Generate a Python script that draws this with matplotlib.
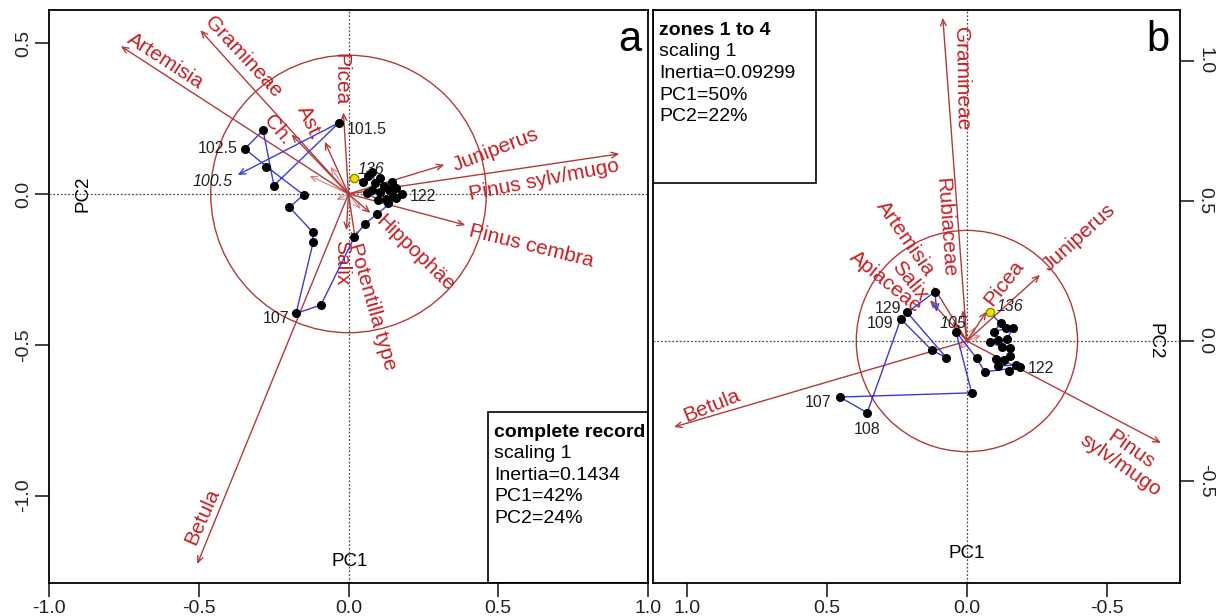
import matplotlib
matplotlib.use("Agg")
import matplotlib.pyplot as plt
from matplotlib.patches import Circle, Rectangle

plt.rcParams['font.family'] = ['Liberation Sans', 'DejaVu Sans']

# ==========================
# PANEL A : complete record
# ==========================
a_taxa = ["Artemisia", "Gramineae", "Picea", "Ast.", "Ch.", "Juniperus",
          "Pinus sylv/mugo", "Pinus cembra", "Hippophäe", "Salix",
          "Potentilla type", "Betula"]
a_tx = [-0.76, -0.495, -0.017, -0.079, -0.19, 0.32, 0.904, 0.39, 0.073, -0.007, 0.023, -0.505]
a_ty = [0.49, 0.543, 0.27, 0.173, 0.197, 0.097, 0.133, -0.103, -0.063, -0.12, -0.153, -1.227]
# short unlabelled taxa
a_mx = [-0.06, -0.13, 0.04, -0.04]
a_my = [0.09, 0.06, -0.05, -0.02]

# samples in stratigraphic order (136 -> 100.5)
a_sx = [0.020, 0.050, 0.066, 0.079, 0.089, 0.106, 0.119, 0.135, 0.145, 0.158, 0.149,
        0.125, 0.106, 0.079, 0.063, 0.099, 0.132, 0.158, 0.177,
        0.095, 0.056, 0.020, -0.092, -0.175, -0.118, -0.120, -0.197, -0.150,
        -0.274, -0.346, -0.285, -0.249, -0.032]
a_sy = [0.052, 0.040, 0.060, 0.073, 0.037, 0.053, 0.027, 0.013, 0.040, 0.020, -0.007,
        -0.017, 0.007, 0.013, 0.003, -0.020, -0.030, -0.013, 0.000,
        -0.067, -0.098, -0.142, -0.368, -0.396, -0.160, -0.126, -0.044, -0.003,
        0.091, 0.150, 0.211, 0.028, 0.236]
a_end = (-0.37, 0.063)          # 100.5
a_depth = {0: "136", 18: "122", 23: "107", 29: "102.5", 32: "101.5"}
a_info = ["complete record", "scaling 1", "Inertia=0.1434", "PC1=42%", "PC2=24%"]

# ==========================
# PANEL B : zones 1 to 4
# ==========================
b_taxa = ["Gramineae", "Rubiaceae", "Artemisia", "Salix", "Apiaceae", "Picea",
          "Juniperus", "Betula", "Pinus\nsylv/mugo"]
b_tx = [0.086, 0.015, 0.12, 0.132, 0.05, -0.07, -0.261, 1.046, -0.693]
b_ty = [1.154, 0.11, 0.194, 0.146, 0.069, 0.105, 0.236, -0.307, -0.364]
b_mx = [-0.03, 0.03, -0.05]
b_my = [0.05, -0.03, 0.02]

b_sx = [-0.082, -0.120, -0.096, -0.139, -0.163, -0.144, -0.112, -0.082, -0.124, -0.154,
        -0.154, -0.104, -0.132, -0.112, -0.177, -0.151, -0.189,
        -0.064, -0.035, 0.039, -0.017, 0.454, 0.356, 0.236, 0.126, 0.073, 0.213, 0.114]
b_sy = [0.102, 0.063, 0.033, 0.045, 0.048, 0.006, 0.004, -0.002, -0.023, -0.026,
        -0.054, -0.065, -0.068, -0.089, -0.086, -0.106, -0.094,
        -0.110, -0.062, 0.033, -0.185, -0.200, -0.256, 0.079, -0.032, -0.060, 0.102, 0.176]
b_end = (0.108, 0.104)          # 105
b_depth = {0: "136", 16: "122", 21: "107", 22: "108", 23: "109", 26: "129"}
b_info = ["zones 1 to 4", "scaling 1", "Inertia=0.09299", "PC1=50%", "PC2=22%"]

# colours
ARROW = "#B23A3A"
TXT = "#C41E24"
BLUE = "#3A3AD8"


def draw_arrow(ax, x, y, x0=0, y0=0, color=ARROW, lw=1.0):
    ax.annotate("", xy=(x, y), xytext=(x0, y0),
                arrowprops=dict(arrowstyle="->,head_length=0.45,head_width=0.2",
                                color=color, lw=lw, shrinkA=0, shrinkB=0))


fig = plt.figure(figsize=(12.24, 6.16), dpi=100)
ax1 = fig.add_axes([49 / 1224, 33 / 616, 599 / 1224, 573 / 616])
ax2 = fig.add_axes([653 / 1224, 33 / 616, 527 / 1224, 573 / 616])

# ---------- panel a ----------
ax = ax1
ax.set_xlim(-1.0, 1.0)
ax.set_ylim(-1.29, 0.61)
ax.axhline(0, color="0.3", lw=0.9, ls=(0, (1.5, 1.5)))
ax.axvline(0, color="0.3", lw=0.9, ls=(0, (1.5, 1.5)))
ax.add_patch(Circle((0, 0), 0.46, fill=False, color=ARROW, lw=1))

for x, y in zip(a_mx, a_my):
    draw_arrow(ax, x, y, color="#D88080", lw=0.8)
for x, y in zip(a_tx, a_ty):
    draw_arrow(ax, x, y)

# label layout: centre x, centre y, rotation
a_lab = [(-0.61, 0.44, -33), (-0.353, 0.453, -47), (-0.026, 0.38, -90), (-0.129, 0.237, -65),
         (-0.238, 0.213, -50), (0.49, 0.147, 21), (0.653, 0.047, 11), (0.61, -0.173, -14),
         (0.224, -0.197, -44), (-0.023, -0.227, -90), (0.079, -0.373, -74), (-0.488, -1.07, 66)]
for name, (lx, ly, rot) in zip(a_taxa, a_lab):
    ax.text(lx, ly, name, color=TXT, fontsize=15, rotation=rot,
            ha="center", va="center", rotation_mode="anchor")

ax.plot(a_sx, a_sy, color=BLUE, lw=1.0, zorder=3)
draw_arrow(ax, a_end[0], a_end[1], a_sx[-1], a_sy[-1], color=BLUE, lw=1.0)
ax.plot(a_sx[1:], a_sy[1:], "o", color="black", ms=5.5, zorder=4)
ax.plot(a_sx[0], a_sy[0], "o", color="#F0E000", mec="#8A8A00", ms=6, zorder=5)

a_off = {0: (2, 6, "left"), 18: (6, -2, "left"), 23: (-5, -4, "right"),
         29: (-5, 0, "right"), 32: (6, -5, "left")}
for i, lab in a_depth.items():
    dx, dy, ha = a_off[i]
    ax.annotate(lab, (a_sx[i], a_sy[i]), xytext=(dx, dy), textcoords="offset points",
                fontsize=11.5, ha=ha, va="center", color="#222222",
                style="italic" if lab == "136" else "normal")
ax.annotate("100.5", a_end, xytext=(-4, -5), textcoords="offset points",
            fontsize=11.5, ha="right", va="center", style="italic", color="#222222")

ax.text(-0.885, 0, "PC2", rotation=90, fontsize=13.5, ha="center", va="center")
ax.text(0.005, -1.22, "PC1", fontsize=13.5, ha="center", va="center")
ax.text(0.97, 0.948, "a", transform=ax.transAxes, fontsize=30, ha="center", va="center")

ax.add_patch(Rectangle((0.733, 0), 0.267, 0.298, transform=ax.transAxes,
                       fill=False, lw=1.2, color="black"))
for k, line in enumerate(a_info):
    ax.text(0.743, 0.2635 - k * 0.0378, line, transform=ax.transAxes, fontsize=14,
            ha="left", va="center", fontweight="bold" if k == 0 else "normal")

ax.set_xticks([-1.0, -0.5, 0.0, 0.5, 1.0])
ax.set_xticklabels(["-1.0", "-0.5", "0.0", "0.5", "1.0"])
ax.set_yticks([-1.0, -0.5, 0.0, 0.5])
ax.set_yticklabels(["-1.0", "-0.5", "0.0", "0.5"], rotation=90, va="center")

# ---------- panel b ----------
ax = ax2
ax.set_xlim(1.121, -0.761)
ax.set_ylim(-0.864, 1.182)
ax.axhline(0, color="0.3", lw=0.9, ls=(0, (1.5, 1.5)))
ax.axvline(0, color="0.3", lw=0.9, ls=(0, (1.5, 1.5)))
ax.add_patch(Circle((0, 0), 0.395, fill=False, color=ARROW, lw=1))

for x, y in zip(b_mx, b_my):
    draw_arrow(ax, x, y, color="#D88080", lw=0.8)
for x, y in zip(b_tx, b_ty):
    draw_arrow(ax, x, y)

b_lab = [(0.018, 0.936, -89), (0.079, 0.407, -86), (0.22, 0.366, -55), (0.204, 0.2125, -51),
         (0.289, 0.211, -39), (-0.134, 0.207, 52), (-0.40, 0.371, 42), (0.911, -0.23, 22),
         (-0.568, -0.414, -35)]
for name, (lx, ly, rot) in zip(b_taxa, b_lab):
    ax.text(lx, ly, name, color=TXT, fontsize=15, rotation=rot, linespacing=1.0,
            ha="center", va="center", rotation_mode="anchor", multialignment="center")

ax.plot(b_sx, b_sy, color=BLUE, lw=1.0, zorder=3)
draw_arrow(ax, b_end[0], b_end[1], b_sx[-1], b_sy[-1], color=BLUE, lw=1.0)
ax.plot(b_sx[1:], b_sy[1:], "o", color="black", ms=5.5, zorder=4)
ax.plot(b_sx[0], b_sy[0], "o", color="#F0E000", mec="#8A8A00", ms=6, zorder=5)

b_off = {0: (5, 4, "left"), 16: (6, -1, "left"), 21: (-6, -4, "right"),
         22: (0, -12, "center"), 23: (-5, -3, "right"), 26: (-4, 3, "right")}
for i, lab in b_depth.items():
    dx, dy, ha = b_off[i]
    ax.annotate(lab, (b_sx[i], b_sy[i]), xytext=(dx, dy), textcoords="offset points",
                fontsize=11.5, ha=ha, va="center", color="#222222",
                style="italic" if lab == "136" else "normal")
ax.annotate("105", b_end, xytext=(2, -8), textcoords="offset points",
            fontsize=11.5, ha="left", va="center", style="italic", color="#222222")

ax.text(-0.671, 0, "PC2", rotation=-90, fontsize=13.5, ha="center", va="center")
ax.text(0.0, -0.757, "PC1", fontsize=13.5, ha="center", va="center")
ax.text(0.958, 0.948, "b", transform=ax.transAxes, fontsize=30, ha="center", va="center")

ax.add_patch(Rectangle((0, 0.698), 0.309, 0.302, transform=ax.transAxes,
                       fill=False, lw=1.2, color="black"))
for k, line in enumerate(b_info):
    ax.text(0.012, 0.965 - k * 0.0378, line, transform=ax.transAxes, fontsize=14,
            ha="left", va="center", fontweight="bold" if k == 0 else "normal")

ax.set_xticks([1.0, 0.5, 0.0, -0.5])
ax.set_xticklabels(["1.0", "0.5", "0.0", "-0.5"])
ax.yaxis.tick_right()
ax.set_yticks([-0.5, 0.0, 0.5, 1.0])
ax.set_yticklabels(["-0.5", "0.0", "0.5", "1.0"], rotation=-90, va="center")

for ax in (ax1, ax2):
    ax.tick_params(length=10, width=1.2, labelsize=14, colors="#222222", pad=2)
    for s in ax.spines.values():
        s.set_linewidth(1.3)

fig.savefig("out.png", dpi=100)
